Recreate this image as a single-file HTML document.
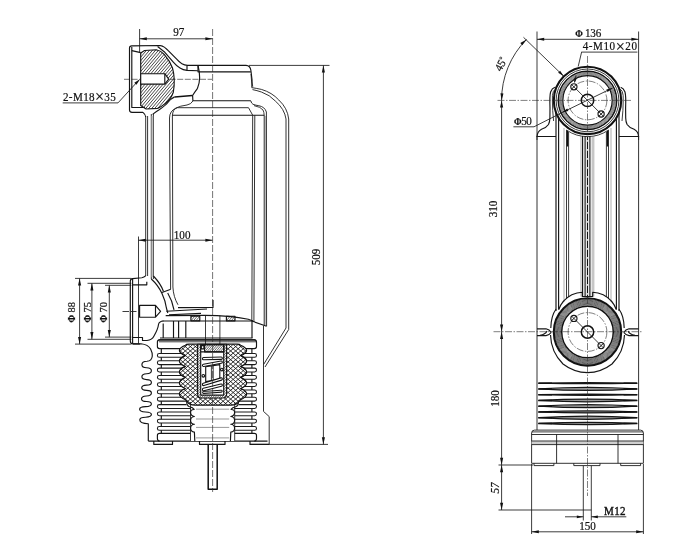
<!DOCTYPE html>
<html><head><meta charset="utf-8"><title>drawing</title>
<style>
html,body{margin:0;padding:0;background:#fff}
svg{display:block;will-change:transform}
svg *{vector-effect:none}
.d line,.d path,.d circle,.d rect{fill:none;stroke:#151515;stroke-width:1.15;stroke-linecap:butt;stroke-linejoin:round}
.d .t{stroke-width:.85;stroke:#1a1a1a}
.d .r{stroke-width:.9;stroke:#222}
.d .g{stroke-width:.6;stroke:#777}
.d .gb{stroke-width:3.2;stroke:#cfcfcf}
.d .k{stroke-width:1.5;stroke:#111}
.d .k2{stroke-width:2.1;stroke:#111}
.d .cl{stroke-width:.65;stroke:#2a2a2a;stroke-dasharray:7 2}
.d .cl2{stroke-width:.65;stroke:#2a2a2a;stroke-dasharray:6 1.6}
.d .cd{stroke-width:.6;stroke:#2a2a2a;stroke-dasharray:7 1.5 1.5 1.5}
.d .cw{stroke:#fff;stroke-width:.8;stroke-dasharray:1.8 7.2}
.d .n{stroke:none}
.d .m{stroke-width:.9;stroke:#1c1c1c}
.d .gf{stroke-width:1.6;stroke:#c0c0c0}
.d .t3{stroke-width:.6;stroke:#1a1a1a}
.d .t2{stroke-width:.55;stroke:#333}
.d .k0{stroke-width:1.2;stroke:#111}
.d .rb{stroke-width:1.05;stroke:#1a1a1a;fill:#fff}
.d .hh{stroke-width:.8;stroke:#1a1a1a}
.d .hh2{stroke-width:.65;stroke:#1a1a1a}
.d .hx{stroke-width:.85;stroke:#111}
.d .k15{stroke-width:1.2;stroke:#111}
.d .sp{stroke-width:1.1;stroke:#111;fill:#fff}
.d .g2{stroke-width:1;stroke:#999}
.d .ar{fill:#111;stroke:none}
.d text{font-family:"Liberation Serif",serif;fill:#111;stroke:#111;stroke-width:.2}
</style></head><body>
<svg class="d" width="692" height="551" viewBox="0 0 692 551">
<defs>
<clipPath id="c0"><path d="M140.7,53 L144.6,50.5 L156.3,49.8 Q161,50.8 164.2,54.4 Q170,61 172.5,68 Q175.6,79 173.3,92.2 Q171,99 165.5,103.4 Q161,107 157.6,108.4 L146.1,109 L140.7,105.5 Z" clip-rule="nonzero"/></clipPath>
<clipPath id="c1"><path d="M190.9,316.2 h8.9 v4.6 h-8.9 Z" clip-rule="nonzero"/></clipPath>
<clipPath id="c2"><path d="M226.4,316.2 h8.6 v4.6 h-8.6 Z" clip-rule="nonzero"/></clipPath>
<clipPath id="c3"><path d="M185.4,345.2 Q186,344.2 189,344.2 L237,344.2 Q240,344.2 240.6,345.2 C243.6,346.4 246.6,348.4 246.6,350.4 C246.6,352.4 243.6,354.40000000000003 240.6,355.6 C243.6,356.8 246.6,358.9 246.6,360.9 C246.6,362.9 243.6,365.2 240.6,366.4 C243.6,367.59999999999997 246.6,370 246.6,372 C246.6,374 243.6,376.3 240.6,377.5 C243.6,378.7 246.6,381 246.6,383 C246.6,385 243.6,387.3 240.6,388.5 C243.6,389.7 246.6,392 246.6,394 C246.6,396 243.6,398.40000000000003 240.6,399.6 L238.5,402 Q237,404.8 231,405.2 L195,405.2 Q189,404.8 187.5,402 L185.4,399.6 C182.4,398.40000000000003 179.4,396 179.4,394 C179.4,392 182.4,389.7 185.4,388.5 C182.4,387.3 179.4,385 179.4,383 C179.4,381 182.4,378.7 185.4,377.5 C182.4,376.3 179.4,374 179.4,372 C179.4,370 182.4,367.59999999999997 185.4,366.4 C182.4,365.2 179.4,362.9 179.4,360.9 C179.4,358.9 182.4,356.8 185.4,355.6 C182.4,354.40000000000003 179.4,352.4 179.4,350.4 C179.4,348.4 182.4,346.4 185.4,345.2 Z M197.6,344.2 L197.6,394 Q197.6,398 201.6,398 L222.6,398 Q226.6,398 226.6,394 L226.6,344.2 Z" clip-rule="evenodd"/></clipPath>
<clipPath id="c4"><path d="M185.4,345.2 Q186,344.2 189,344.2 L237,344.2 Q240,344.2 240.6,345.2 C243.6,346.4 246.6,348.4 246.6,350.4 C246.6,352.4 243.6,354.40000000000003 240.6,355.6 C243.6,356.8 246.6,358.9 246.6,360.9 C246.6,362.9 243.6,365.2 240.6,366.4 C243.6,367.59999999999997 246.6,370 246.6,372 C246.6,374 243.6,376.3 240.6,377.5 C243.6,378.7 246.6,381 246.6,383 C246.6,385 243.6,387.3 240.6,388.5 C243.6,389.7 246.6,392 246.6,394 C246.6,396 243.6,398.40000000000003 240.6,399.6 L238.5,402 Q237,404.8 231,405.2 L195,405.2 Q189,404.8 187.5,402 L185.4,399.6 C182.4,398.40000000000003 179.4,396 179.4,394 C179.4,392 182.4,389.7 185.4,388.5 C182.4,387.3 179.4,385 179.4,383 C179.4,381 182.4,378.7 185.4,377.5 C182.4,376.3 179.4,374 179.4,372 C179.4,370 182.4,367.59999999999997 185.4,366.4 C182.4,365.2 179.4,362.9 179.4,360.9 C179.4,358.9 182.4,356.8 185.4,355.6 C182.4,354.40000000000003 179.4,352.4 179.4,350.4 C179.4,348.4 182.4,346.4 185.4,345.2 Z M197.6,344.2 L197.6,394 Q197.6,398 201.6,398 L222.6,398 Q226.6,398 226.6,394 L226.6,344.2 Z" clip-rule="evenodd"/></clipPath>
<clipPath id="c5"><path d="M197.6,344.2 L197.6,394 Q197.6,398 201.6,398 L222.6,398 Q226.6,398 226.6,394 L226.6,344.2 Z M200.7,351.8 L200.7,395.1 L223.7,395.1 L223.7,351.8 Z" clip-rule="evenodd"/></clipPath>
<clipPath id="c6"><path d="M204.6,344.6 L223.7,344.6 L223.7,351.8 L204.6,351.8 Z" clip-rule="nonzero"/></clipPath>
</defs>
<rect width="692" height="551" style="fill:#fff;stroke:none"/>
<g id="left">
<line class="t" x1="139.6" y1="29" x2="139.6" y2="52"/>
<line class="t" x1="139.6" y1="38.8" x2="212.6" y2="38.8"/>
<polygon class="ar" points="139.60,38.80 146.80,37.25 146.80,40.35"/>
<polygon class="ar" points="212.60,38.80 205.40,40.35 205.40,37.25"/>
<text transform="translate(178.7 36.4) scale(0.95 1)" font-size="11.7" text-anchor="middle">97</text>
<text transform="translate(63 100.8) scale(0.95 1)" font-size="11.7" text-anchor="start" textLength="55.58" lengthAdjust="spacing">2-M18<tspan font-size="17" dy="1.6">×</tspan><tspan dy="-1.6">35</tspan></text>
<path class="t" d="M62.7,102.9 L118,102.9 L138.5,80.5"/>
<polygon class="ar" points="140.20,78.90 136.45,84.77 134.33,82.65"/>
<line class="cl2" x1="124" y1="79.3" x2="212" y2="79.3"/>
<path d="M143,112.4 L132,112.4 Q129.5,112.2 129.5,110 L129.5,48 Q129.5,45.9 131.8,45.9 L160.2,45.5 Q164.5,46.2 168,50.4 L177.2,59.6 Q181.5,64.8 187.5,65.4 L246,65.4 Q250.3,65.6 250.9,70.5 Q252.6,80 251.9,87.4"/>
<path d="M131.8,47 L131.8,107.5 L144.8,107.5"/>
<path d="M131.8,50.6 L140.7,52.6"/>
<path d="M157.6,46.5 L164.2,51.7 L173.3,62.2 Q177,66.5 180,68 Q183,70 187,70.4 L197.8,70.8"/>
<path d="M187,65.4 L187,70.4 M198,65.4 L198,71.8 L250.8,71.8"/>
<path class="t" d="M251,74 Q251.2,82 252.8,86.5"/>
<path class="hh" clip-path="url(#c0)" d="M104.00,83.03L152.10,25.71M105.76,84.51L153.86,27.18M107.52,85.99L155.62,28.66M109.28,87.46L157.38,30.14M111.05,88.94L159.15,31.62M112.81,90.42L160.91,33.10M114.57,91.90L162.67,34.58M116.33,93.38L164.43,36.05M118.09,94.86L166.19,37.53M119.85,96.33L167.95,39.01M121.62,97.81L169.72,40.49M123.38,99.29L171.48,41.97M125.14,100.77L173.24,43.45M126.90,102.25L175.00,44.92M128.66,103.73L176.76,46.40M130.43,105.21L178.53,47.88M132.19,106.68L180.29,49.36M133.95,108.16L182.05,50.84M135.71,109.64L183.81,52.32M137.47,111.12L185.57,53.79M139.24,112.60L187.34,55.27M141.00,114.08L189.10,56.75M142.76,115.55L190.86,58.23M144.52,117.03L192.62,59.71M146.28,118.51L194.38,61.19M148.05,119.99L196.15,62.67M149.81,121.47L197.91,64.14M151.57,122.95L199.67,65.62M153.33,124.42L201.43,67.10M155.09,125.90L203.19,68.58M156.85,127.38L204.95,70.06M158.62,128.86L206.72,71.54M160.38,130.34L208.48,73.01M162.14,131.82L210.24,74.49M163.90,133.29L212.00,75.97"/>
<path d="M140.7,53 L144.6,50.5 L156.3,49.8 Q161,50.8 164.2,54.4 Q170,61 172.5,68 Q175.6,79 173.3,92.2 Q171,99 165.5,103.4 Q161,107 157.6,108.4 L146.1,109 L140.7,105.5 Z"/>
<path d="M140.7,73.7 L164.8,73.7 L168.7,79.2 L164.8,84.1 L140.7,84.1 Z" style="fill:#fff"/>
<path d="M164.8,73.7 L164.8,84.1"/>
<path d="M198.1,66 Q201.5,79 197.5,88.3 Q194,93 192.6,95.5 L192.9,100.7 L250.9,100.7"/>
<path class="k" d="M174.6,96.9 L192.4,95.6"/>
<path d="M152.6,114.4 Q157,111 159.2,109.8 Q166,105 168.3,102 Q171,98.5 174.6,96.9"/>
<path d="M143,112.4 Q145.5,114.5 145.7,117"/>
<line class="m" x1="145.7" y1="116" x2="145.7" y2="276"/>
<line class="m" x1="147.6" y1="116" x2="147.6" y2="276"/>
<line class="m" x1="151.3" y1="114" x2="151.3" y2="279"/>
<line class="m" x1="153.4" y1="114" x2="153.4" y2="279"/>
<path class="gf" d="M152.35,116 L152.35,277"/>
<path class="gf" d="M265.4,116 L265.4,325.5"/>
<path class="m" d="M192.9,101 Q191,104.3 187,105 Q180,105.9 176,108 Q169.6,111 169.5,118 L170.6,289 "/>
<path class="m" d="M248.5,107.7 L177.4,107.7 Q172.6,109 172.4,116 L172.9,287 Q173.4,297 178,304.8"/>
<path d="M172.4,115.2 L264,115.2"/>
<path class="m" d="M248.5,107.7 L252.7,115.2 L251.8,321"/>
<line class="m" x1="254.8" y1="115.2" x2="253.9" y2="322"/>
<path class="m" d="M250.9,101 Q251.3,103.4 253,104.3 Q256,105.4 258.8,105.7 Q264.8,106.8 266.4,112 L266.6,326.2"/>
<path class="t" d="M254,105.6 Q261,107 263,110 Q264,112 264.2,115.2"/>
<path class="m" d="M264.2,115 L264.2,325.5"/>
<path class="m" d="M251.5,87.6 Q256,88.2 261.4,89.4 Q272,92.5 278.8,100 Q287.5,108 288.7,119 L288.7,329.5 L265,367"/>
<path class="m" d="M252.5,89.6 Q257,90.5 261.4,92 Q270,95 275.3,101 Q284.6,109 286,119 L286,328 L263.6,364.5"/>
<path d="M251.8,321 L266.6,326.2"/>
<path class="m" d="M263.5,326 L263.5,411.4 L269.2,416.6 L269.2,444.4"/>
<line class="t" x1="249" y1="65.4" x2="329.5" y2="65.4"/>
<line class="t" x1="250" y1="444.4" x2="328" y2="444.4"/>
<line class="t" x1="323.4" y1="65.4" x2="323.4" y2="444.4"/>
<polygon class="ar" points="323.40,65.40 324.95,72.60 321.85,72.60"/>
<polygon class="ar" points="323.40,444.40 321.85,437.20 324.95,437.20"/>
<text transform="translate(320.3 257) rotate(-90) scale(0.95 1)" font-size="11.7" text-anchor="middle">509</text>
<line class="t" x1="138.5" y1="236.5" x2="138.5" y2="343.8"/>
<line class="t" x1="138.5" y1="240.2" x2="212.6" y2="240.2"/>
<polygon class="ar" points="138.50,240.20 145.70,238.65 145.70,241.75"/>
<polygon class="ar" points="212.60,240.20 205.40,241.75 205.40,238.65"/>
<text transform="translate(182.1 238.6) scale(0.95 1)" font-size="11.7" text-anchor="middle">100</text>
<path d="M145.9,275.6 Q144,277.4 141.8,277.7 L132.6,278.6 Q130.3,278.9 130.3,281.3 L130.3,341 Q130.3,343.8 133,343.8 L140,344"/>
<line x1="132.6" y1="279" x2="132.6" y2="343.5"/>
<path d="M132.6,284.8 L146.8,284.8 L146.8,281.8"/>
<path d="M132.6,337.5 L142.5,337.5 L142.5,340.5 L147,340.5"/>
<path d="M151.3,279 Q158,285 162,293.5 Q165.5,301 166.4,308 L167.8,313"/>
<path d="M153.4,276 Q161,284 163.5,291.5"/>
<path d="M162,292.5 L170.8,289.2"/>
<path d="M167.7,293 Q172.5,301 174,309.8"/>
<path d="M139.6,305.4 L155.5,305.4 L160.6,311.4 L155.5,317.2 L139.6,317.2 Z M155.5,305.4 L155.5,317.2"/>
<path class="t" d="M122.5,311.5 L129,311.5 M131,311.5 L136.5,311.5"/>
<line class="t" x1="75" y1="278.4" x2="131.3" y2="278.4"/>
<line class="t" x1="75" y1="344.1" x2="131.3" y2="344.1"/>
<line class="t" x1="79.6" y1="278.4" x2="79.6" y2="344.1"/>
<polygon class="ar" points="79.60,278.40 81.15,285.60 78.05,285.60"/>
<polygon class="ar" points="79.60,344.10 78.05,336.90 81.15,336.90"/>
<line class="t" x1="87.5" y1="283.3" x2="131.3" y2="283.3"/>
<line class="t" x1="87.5" y1="339.3" x2="131.3" y2="339.3"/>
<line class="t" x1="91.9" y1="283.3" x2="91.9" y2="339.3"/>
<polygon class="ar" points="91.90,283.30 93.45,290.50 90.35,290.50"/>
<polygon class="ar" points="91.90,339.30 90.35,332.10 93.45,332.10"/>
<line class="t" x1="105" y1="285.3" x2="131.3" y2="285.3"/>
<line class="t" x1="105" y1="337.1" x2="131.3" y2="337.1"/>
<line class="t" x1="109.3" y1="285.3" x2="109.3" y2="337.1"/>
<polygon class="ar" points="109.30,285.30 110.85,292.50 107.75,292.50"/>
<polygon class="ar" points="109.30,337.10 107.75,329.90 110.85,329.90"/>
<text transform="translate(75.4 312.3) rotate(-90) scale(0.95 1)" font-size="11" text-anchor="middle"><tspan font-size="9.6" font-weight="bold">Φ</tspan> 88</text>
<text transform="translate(90.6 312.3) rotate(-90) scale(0.95 1)" font-size="11" text-anchor="middle"><tspan font-size="9.6" font-weight="bold">Φ</tspan> 75</text>
<text transform="translate(107.2 312.3) rotate(-90) scale(0.95 1)" font-size="11" text-anchor="middle"><tspan font-size="9.6" font-weight="bold">Φ</tspan> 70</text>
<path d="M178,307.6 L213,307.4 L213,300"/>
<path d="M166.3,311.2 L207,309 M169,314.8 L201,313.4"/>
<path d="M165.7,315.6 L205,315.4 Q230,315.4 248.3,319.2 L252.9,321"/>
<path class="hh2" clip-path="url(#c1)" d="M185.02,318.98L194.03,308.25M186.48,320.21L195.49,309.47M187.93,321.43L196.94,310.69M189.39,322.65L198.40,311.91M190.84,323.87L199.86,313.13M192.30,325.09L201.31,314.35M193.76,326.31L202.77,315.57M195.21,327.53L204.22,316.79M196.67,328.75L205.68,318.02"/>
<path d="M190.9,316.2 h8.9 v4.6 h-8.9 Z"/>
<path class="hh2" clip-path="url(#c2)" d="M220.46,318.88L229.30,308.35M221.91,320.10L230.75,309.57M223.37,321.33L232.21,310.79M224.82,322.55L233.66,312.01M226.28,323.77L235.12,313.23M227.74,324.99L236.58,314.45M229.19,326.21L238.03,315.67M230.65,327.43L239.49,316.90M232.10,328.65L240.94,318.12"/>
<path d="M226.4,316.2 h8.6 v4.6 h-8.6 Z"/>
<path d="M162.5,321 L252.9,321"/>
<path d="M147,340.5 Q152,340 154,336 Q158,329 158.5,324.5 Q159,321.3 163.5,321"/>
<path d="M163.2,323.5 L163.2,338 M252,321 L252,338 M173.5,321 L173.5,338 M178.6,321 L178.6,338 M185.8,321 L185.8,338"/>
<path class="t" d="M205.5,315.5 L205.5,352 M219.9,315.5 L219.9,352"/>
<path d="M160,338 L252.5,338 M158.5,339.9 L255.5,339.9"/>
<path d="M161.3,349 L161.3,433 M251.9,349 L251.9,433"/>
<path d="M159.6,348.6 Q157.4,348.6 157.4,346.6 L157.4,342 Q157.4,339.9 159.6,339.9 L254.3,339.9 Q256.5,339.9 256.5,342 L256.5,346.6 Q256.5,348.6 254.3,348.6 Z"/>
<path class="t" d="M159,341.8 L256,341.8"/>
<path d="M159.6,441.1 Q157.4,441.1 157.4,438.6 L157.4,435.4 Q157.4,433.4 159.6,433.4 L254.3,433.4 Q256.5,433.4 256.5,435.4 L256.5,438.6 Q256.5,441.1 254.3,441.1"/>
<path class="rb" d="M159.3,353.50 Q157.4,353.50 157.4,355.40 Q157.4,357.30 159.3,357.30 L254.6,357.30 Q256.5,357.30 256.5,355.40 Q256.5,353.50 254.6,353.50 Z"/>
<path class="rb" d="M159.3,360.80 Q157.4,360.80 157.4,362.70 Q157.4,364.60 159.3,364.60 L254.6,364.60 Q256.5,364.60 256.5,362.70 Q256.5,360.80 254.6,360.80 Z"/>
<path class="rb" d="M159.3,368.10 Q157.4,368.10 157.4,370.00 Q157.4,371.90 159.3,371.90 L254.6,371.90 Q256.5,371.90 256.5,370.00 Q256.5,368.10 254.6,368.10 Z"/>
<path class="rb" d="M159.3,375.40 Q157.4,375.40 157.4,377.30 Q157.4,379.20 159.3,379.20 L254.6,379.20 Q256.5,379.20 256.5,377.30 Q256.5,375.40 254.6,375.40 Z"/>
<path class="rb" d="M159.3,382.70 Q157.4,382.70 157.4,384.60 Q157.4,386.50 159.3,386.50 L254.6,386.50 Q256.5,386.50 256.5,384.60 Q256.5,382.70 254.6,382.70 Z"/>
<path class="rb" d="M159.3,390.00 Q157.4,390.00 157.4,391.90 Q157.4,393.80 159.3,393.80 L254.6,393.80 Q256.5,393.80 256.5,391.90 Q256.5,390.00 254.6,390.00 Z"/>
<path class="rb" d="M159.3,397.30 Q157.4,397.30 157.4,399.20 Q157.4,401.10 159.3,401.10 L254.6,401.10 Q256.5,401.10 256.5,399.20 Q256.5,397.30 254.6,397.30 Z"/>
<path class="rb" d="M159.3,404.60 Q157.4,404.60 157.4,406.50 Q157.4,408.40 159.3,408.40 L254.6,408.40 Q256.5,408.40 256.5,406.50 Q256.5,404.60 254.6,404.60 Z"/>
<path class="rb" d="M159.3,411.90 Q157.4,411.90 157.4,413.80 Q157.4,415.70 159.3,415.70 L254.6,415.70 Q256.5,415.70 256.5,413.80 Q256.5,411.90 254.6,411.90 Z"/>
<path class="rb" d="M159.3,419.20 Q157.4,419.20 157.4,421.10 Q157.4,423.00 159.3,423.00 L254.6,423.00 Q256.5,423.00 256.5,421.10 Q256.5,419.20 254.6,419.20 Z"/>
<path class="rb" d="M159.3,426.50 Q157.4,426.50 157.4,428.40 Q157.4,430.30 159.3,430.30 L254.6,430.30 Q256.5,430.30 256.5,428.40 Q256.5,426.50 254.6,426.50 Z"/>
<path d="M148.3,441.1 L267.5,441.1"/>
<path d="M153.8,441.1 L153.8,444.4 L172.5,444.4 L172.5,441.1 M199.5,441.1 L199.5,444.4 L225,444.4 L225,441.1 M250,441.1 L250,444.4 L269.2,444.4"/>
<path d="M133,343.8 L141,343.8 Q148,344.6 150.6,349 Q152.6,353 152.3,356 Q151.8,361 147,361.3 Q141.9,361.5 141.9,364.7 C141.9,370.50 151.4,365.00 151.4,370.8 C151.4,376.50 141.9,371.10 141.9,376.8 C141.9,382.12 151.4,377.08 151.4,382.4 C151.4,387.53 141.7,382.67 141.7,387.8 C141.7,392.74 151.4,388.06 151.4,393 C151.4,398.60 141.5,393.30 141.5,398.9 C141.5,403.75 151.4,399.15 151.4,404 C151.4,409.04 139.6,404.26 139.6,409.3 C139.6,414.34 151.4,409.56 151.4,414.6 C151.4,419.54 139.8,414.86 139.8,419.8 C139.8,423 143,423.6 148.3,423.7 L148.3,441.1"/>
<path d="M185.4,345.2 Q186,344.2 189,344.2 L237,344.2 Q240,344.2 240.6,345.2 C243.6,346.4 246.6,348.4 246.6,350.4 C246.6,352.4 243.6,354.40000000000003 240.6,355.6 C243.6,356.8 246.6,358.9 246.6,360.9 C246.6,362.9 243.6,365.2 240.6,366.4 C243.6,367.59999999999997 246.6,370 246.6,372 C246.6,374 243.6,376.3 240.6,377.5 C243.6,378.7 246.6,381 246.6,383 C246.6,385 243.6,387.3 240.6,388.5 C243.6,389.7 246.6,392 246.6,394 C246.6,396 243.6,398.40000000000003 240.6,399.6 L238.5,402 Q237,404.8 231,405.2 L195,405.2 Q189,404.8 187.5,402 L185.4,399.6 C182.4,398.40000000000003 179.4,396 179.4,394 C179.4,392 182.4,389.7 185.4,388.5 C182.4,387.3 179.4,385 179.4,383 C179.4,381 182.4,378.7 185.4,377.5 C182.4,376.3 179.4,374 179.4,372 C179.4,370 182.4,367.59999999999997 185.4,366.4 C182.4,365.2 179.4,362.9 179.4,360.9 C179.4,358.9 182.4,356.8 185.4,355.6 C182.4,354.40000000000003 179.4,352.4 179.4,350.4 C179.4,348.4 182.4,346.4 185.4,345.2 Z " style="fill:#fff" class="n"/>
<path d="M186.6,400 L186.6,405.5 L190.5,408 L190.5,440.9 L234.7,440.9 L234.7,408 L238.6,405.5 L238.6,400 Z" style="fill:#fff" class="n"/>
<path class="t" d="M190.5,408 L190.5,440.9 M234.7,408 L234.7,440.9"/>
<path class="hx" clip-path="url(#c3)" d="M208.17,305.22L282.78,370.07M206.01,307.71L280.61,372.56M203.84,310.20L278.45,375.05M201.68,312.69L276.28,377.54M199.51,315.18L274.12,380.03M197.35,317.67L271.95,382.52M195.18,320.16L269.79,385.01M193.02,322.65L267.62,387.50M190.85,325.14L265.46,389.99M188.69,327.63L263.29,392.48M186.52,330.12L261.13,394.97M184.36,332.61L258.96,397.46M182.19,335.10L256.80,399.95M180.03,337.59L254.63,402.44M177.86,340.08L252.47,404.93M175.70,342.58L250.30,407.42M173.53,345.07L248.14,409.92M171.37,347.56L245.97,412.41M169.20,350.05L243.81,414.90M167.04,352.54L241.64,417.39M164.87,355.03L239.48,419.88M162.71,357.52L237.31,422.37M160.54,360.01L235.15,424.86M158.38,362.50L232.98,427.35M156.21,364.99L230.82,429.84M154.05,367.48L228.65,432.33M151.88,369.97L226.49,434.82M149.72,372.46L224.32,437.31M147.55,374.95L222.16,439.80M145.39,377.44L219.99,442.29M143.22,379.93L217.83,444.78"/>
<path class="hx" clip-path="url(#c4)" d="M143.22,370.07L217.83,305.22M145.39,372.56L219.99,307.71M147.55,375.05L222.16,310.20M149.72,377.54L224.32,312.69M151.88,380.03L226.49,315.18M154.05,382.52L228.65,317.67M156.21,385.01L230.82,320.16M158.38,387.50L232.98,322.65M160.54,389.99L235.15,325.14M162.71,392.48L237.31,327.63M164.87,394.97L239.48,330.12M167.04,397.46L241.64,332.61M169.20,399.95L243.81,335.10M171.37,402.44L245.97,337.59M173.53,404.93L248.14,340.08M175.70,407.42L250.30,342.58M177.86,409.92L252.47,345.07M180.03,412.41L254.63,347.56M182.19,414.90L256.80,350.05M184.36,417.39L258.96,352.54M186.52,419.88L261.13,355.03M188.69,422.37L263.29,357.52M190.85,424.86L265.46,360.01M193.02,427.35L267.62,362.50M195.18,429.84L269.79,364.99M197.35,432.33L271.95,367.48M199.51,434.82L274.12,369.97M201.68,437.31L276.28,372.46M203.84,439.80L278.45,374.95M206.01,442.29L280.61,377.44M208.17,444.78L282.78,379.93"/>
<path class="k15" d="M185.4,345.2 Q186,344.2 189,344.2 L237,344.2 Q240,344.2 240.6,345.2 C243.6,346.4 246.6,348.4 246.6,350.4 C246.6,352.4 243.6,354.40000000000003 240.6,355.6 C243.6,356.8 246.6,358.9 246.6,360.9 C246.6,362.9 243.6,365.2 240.6,366.4 C243.6,367.59999999999997 246.6,370 246.6,372 C246.6,374 243.6,376.3 240.6,377.5 C243.6,378.7 246.6,381 246.6,383 C246.6,385 243.6,387.3 240.6,388.5 C243.6,389.7 246.6,392 246.6,394 C246.6,396 243.6,398.40000000000003 240.6,399.6 L238.5,402 Q237,404.8 231,405.2 L195,405.2 Q189,404.8 187.5,402 L185.4,399.6 C182.4,398.40000000000003 179.4,396 179.4,394 C179.4,392 182.4,389.7 185.4,388.5 C182.4,387.3 179.4,385 179.4,383 C179.4,381 182.4,378.7 185.4,377.5 C182.4,376.3 179.4,374 179.4,372 C179.4,370 182.4,367.59999999999997 185.4,366.4 C182.4,365.2 179.4,362.9 179.4,360.9 C179.4,358.9 182.4,356.8 185.4,355.6 C182.4,354.40000000000003 179.4,352.4 179.4,350.4 C179.4,348.4 182.4,346.4 185.4,345.2 Z "/>
<path d="M197.6,344.2 L197.6,394 Q197.6,398 201.6,398 L222.6,398 Q226.6,398 226.6,394 L226.6,344.2 Z" style="fill:#fff"/>
<path class="hh2" clip-path="url(#c5)" d="M163.25,374.65L207.05,322.45M164.55,375.74L208.35,323.55M165.86,376.84L209.66,324.64M167.16,377.93L210.96,325.73M168.46,379.02L212.26,326.82M169.76,380.12L213.56,327.92M171.07,381.21L214.87,329.01M172.37,382.30L216.17,330.10M173.67,383.39L217.47,331.20M174.97,384.49L218.77,332.29M176.28,385.58L220.07,333.38M177.58,386.67L221.38,334.47M178.88,387.76L222.68,335.57M180.18,388.86L223.98,336.66M181.48,389.95L225.28,337.75M182.79,391.04L226.59,338.84M184.09,392.14L227.89,339.94M185.39,393.23L229.19,341.03M186.69,394.32L230.49,342.12M188.00,395.41L231.80,343.22M189.30,396.51L233.10,344.31M190.60,397.60L234.40,345.40M191.90,398.69L235.70,346.49M193.20,399.78L237.00,347.59M194.51,400.88L238.31,348.68M195.81,401.97L239.61,349.77M197.11,403.06L240.91,350.86M198.41,404.16L242.21,351.96M199.72,405.25L243.52,353.05M201.02,406.34L244.82,354.14M202.32,407.43L246.12,355.24M203.62,408.53L247.42,356.33M204.93,409.62L248.72,357.42M206.23,410.71L250.03,358.51M207.53,411.80L251.33,359.61M208.83,412.90L252.63,360.70M210.13,413.99L253.93,361.79M211.44,415.08L255.24,362.88M212.74,416.18L256.54,363.98M214.04,417.27L257.84,365.07M215.34,418.36L259.14,366.16M216.65,419.45L260.45,367.26M217.95,420.55L261.75,368.35"/>
<path d="M200.7,344.2 L200.7,395.1 L223.7,395.1 L223.7,344.2"/>
<path d="M200.7,344.6 L223.7,344.6 L223.7,351.8 L200.7,351.8 Z" style="fill:#fff"/>
<path class="hh2" clip-path="url(#c6)" d="M195.57,349.40L212.59,329.12M196.88,350.49L213.89,330.21M198.18,351.58L215.19,331.30M199.48,352.68L216.50,332.40M200.78,353.77L217.80,333.49M202.09,354.86L219.10,334.58M203.39,355.95L220.40,335.68M204.69,357.05L221.71,336.77M205.99,358.14L223.01,337.86M207.29,359.23L224.31,338.95M208.60,360.32L225.61,340.05M209.90,361.42L226.91,341.14M211.20,362.51L228.22,342.23M212.50,363.60L229.52,343.32M213.81,364.70L230.82,344.42M215.11,365.79L232.12,345.51M216.41,366.88L233.43,346.60"/>
<path d="M204.6,344.6 L223.7,344.6 L223.7,351.8 L204.6,351.8 Z"/>
<path d="M201.3,345.6 h2.6 v3.2 h-2.6 Z"/>
<path d="M203.6,358.6 L221.2,358.2" style="stroke:#111;stroke-width:3.4;stroke-linecap:round"/><path d="M203.6,358.6 L221.2,358.2" style="stroke:#fff;stroke-width:1.30;stroke-linecap:round"/>
<path d="M203.6,365.3 L221.2,362.2" style="stroke:#111;stroke-width:3.4;stroke-linecap:round"/><path d="M203.6,365.3 L221.2,362.2" style="stroke:#fff;stroke-width:1.30;stroke-linecap:round"/>
<path class="sp" d="M205.7,366.8 L219.8,364.6 L219.8,379.4 L205.7,381.6 Z"/>
<path class="t" d="M211.4,366 L211.4,380.6 M213.2,365.8 L213.2,380.4"/>
<path d="M203.6,384.4 L221.2,379" style="stroke:#111;stroke-width:3.4;stroke-linecap:round"/><path d="M203.6,384.4 L221.2,379" style="stroke:#fff;stroke-width:1.30;stroke-linecap:round"/>
<path d="M203.6,389.5 L221.2,385.2" style="stroke:#111;stroke-width:3.4;stroke-linecap:round"/><path d="M203.6,389.5 L221.2,385.2" style="stroke:#fff;stroke-width:1.30;stroke-linecap:round"/>
<path d="M203.6,392.4 L221.2,391.2" style="stroke:#111;stroke-width:3.0;stroke-linecap:round"/><path d="M203.6,392.4 L221.2,391.2" style="stroke:#fff;stroke-width:0.90;stroke-linecap:round"/>
<circle cx="203.3" cy="375.8" r="1.3" style="fill:#fff"/><circle cx="221.8" cy="369.5" r="1.3" style="fill:#fff"/>
<path d="M186.6,400.5 Q186.6,405.5 189,406.5 Q193,407.5 194.4,409.5 M238.6,400.5 Q238.6,405.5 236.2,406.5 Q232.2,407.5 230.8,409.5"/>
<path d="M194.4,409.5 Q190.6,409.20000000000005 190.6,412.6 Q190.6,416.0 194.4,416.5 Q190.6,417.0 190.6,420.4 Q190.6,423.79999999999995 194.4,424.29999999999995 Q190.6,424.8 190.6,428.2 Q190.6,431.59999999999997 194.4,432.09999999999997 L194.8,441.1"/>
<path d="M230.8,409.5 Q234.6,409.20000000000005 234.6,412.6 Q234.6,416.0 230.8,416.5 Q234.6,417.0 234.6,420.4 Q234.6,423.79999999999995 230.8,424.29999999999995 Q234.6,424.8 234.6,428.2 Q234.6,431.59999999999997 230.8,432.09999999999997 L230.4,441.1"/>
<path class="g2" d="M196,409.2 L229.2,409.2"/>
<path class="g2" d="M196,419 L229.2,419"/>
<path class="g2" d="M196,427.4 L229.2,427.4"/>
<path class="g2" d="M196,437.9 L229.2,437.9"/>
<path class="t" d="M190.5,402 L190.5,409 M234.7,402 L234.7,409"/>
<path class="k" d="M208.2,444.4 L208.2,489.3 L217.2,489.3 L217.2,444.4"/>
<line class="cl" x1="212.6" y1="29" x2="212.6" y2="492"/>
</g>
<g id="right">
<path d="M537,137 Q537.2,131.5 541.5,129.3 Q546.5,127.5 548.5,124.5 Q549.8,122 549.9,118 L550,108 Q549.5,96 550.6,92 Q552,88.4 554.9,87.3"/>
<path d="M638.6,137 Q638.4,131.5 634.1,129.3 Q629.1,127.5 627.1,124.5 Q625.8,122 625.7,118 L625.6,108 Q626.1,96 625.0,92 Q623.6,88.4 620.7,87.3"/>
<path class="t" d="M553.6,121 Q552.4,110 552.4,101 Q552,94.5 553.4,91.4 Q554.4,89.6 556.2,89"/>
<path class="t" d="M622.0,121 Q623.2,110 623.2,101 Q623.6,94.5 622.2,91.4 Q621.2,89.6 619.4,89"/>
<path d="M537,136.5 L556,136.5 M619,136.5 L638.6,136.5"/>
<path class="m" d="M537,136 L537,430 M638.6,136 L638.6,430"/>
<path d="M556,112 L556,311 M558.6,118 L558.6,309.6"/>
<path d="M619,112 L619,311 M616.4,118 L616.4,309.6"/>
<path class="g" d="M564,128 L564,302 M611,128 L611,302"/>
<path class="t" d="M566.5,130 L566.5,299 M568.6,132 L568.6,297 M608.5,130 L608.5,299 M606.4,132 L606.4,297"/>
<path class="k" d="M567.5,131 L567.5,146.5 M607.5,131 L607.5,146.5"/>
<path class="t" d="M566.5,130 A36.6,36.6 0 0 0 608.5,130"/>
<path class="g" d="M581,136 L581,296.5"/>
<path d="M582.6,136 L582.6,296.5"/>
<path d="M585.1,136 L585.1,296.5"/>
<path d="M589.9,136 L589.9,296.5"/>
<path class="g" d="M592.2,136 L592.2,296.5"/>
<path class="g" d="M593.8,136 L593.8,296.5"/>
<path class="k0" d="M587.5,136.5 L587.5,296"/>
<path class="cw" d="M587.5,140 L587.5,296"/>
<path d="M558.7,309.6 Q562,300 571.8,294.8 Q577,292.5 582.3,292.2 L582.3,296.5 L592.7,296.5 L592.7,292.2 Q598,292.5 603.2,294.8 Q613,300 616.3,309.6"/>
<path d="M556.1,309 Q551,316 550.8,328 M618.9,309 Q624,316 624.2,328"/>
<path d="M550.5,335 Q551,352 563,364 Q574,372.5 587.5,372.6 Q601,372.5 612,364 Q624,352 624.5,335"/>
<path d="M537,328.8 L546,328.8 Q549.5,329.5 551.2,332.5 M537,335.6 L546,335.6 Q549.5,335 551.2,332.5 M540,335.3 Q545.5,334.5 547,331"/>
<path d="M638.6,328.8 L629,328.8 Q625.5,329.5 623.8,332.5 M638.6,335.6 L629,335.6 Q625.5,335 623.8,332.5 M635,335.3 Q629.5,334.5 628,331"/>
<path d="M539,383.20 Q587.5,382.20 636.6,383.20 Q587.5,384.20 539,383.20 Z" style="fill:#9a9a9a;stroke:#151515;stroke-width:1.25"/>
<path class="k" d="M538.2,383.20 L552,383.20 M623.6,383.20 L637.4,383.20"/>
<path d="M539,388.95 Q587.5,385.95 636.6,388.95 Q587.5,391.95 539,388.95 Z" style="fill:#9a9a9a;stroke:#151515;stroke-width:1.25"/>
<path class="k" d="M538.2,388.95 L552,388.95 M623.6,388.95 L637.4,388.95"/>
<path d="M539,394.70 Q587.5,393.50 636.6,394.70 Q587.5,395.90 539,394.70 Z" style="fill:#9a9a9a;stroke:#151515;stroke-width:1.25"/>
<path class="k" d="M538.2,394.70 L552,394.70 M623.6,394.70 L637.4,394.70"/>
<path d="M539,400.45 Q587.5,397.65 636.6,400.45 Q587.5,403.25 539,400.45 Z" style="fill:#9a9a9a;stroke:#151515;stroke-width:1.25"/>
<path class="k" d="M538.2,400.45 L552,400.45 M623.6,400.45 L637.4,400.45"/>
<path d="M539,406.20 Q587.5,403.20 636.6,406.20 Q587.5,409.20 539,406.20 Z" style="fill:#9a9a9a;stroke:#151515;stroke-width:1.25"/>
<path class="k" d="M538.2,406.20 L552,406.20 M623.6,406.20 L637.4,406.20"/>
<path d="M539,411.95 Q587.5,409.95 636.6,411.95 Q587.5,413.95 539,411.95 Z" style="fill:#9a9a9a;stroke:#151515;stroke-width:1.25"/>
<path class="k" d="M538.2,411.95 L552,411.95 M623.6,411.95 L637.4,411.95"/>
<path d="M539,417.70 Q587.5,414.50 636.6,417.70 Q587.5,420.90 539,417.70 Z" style="fill:#9a9a9a;stroke:#151515;stroke-width:1.25"/>
<path class="k" d="M538.2,417.70 L552,417.70 M623.6,417.70 L637.4,417.70"/>
<path d="M539,423.45 Q587.5,421.05 636.6,423.45 Q587.5,425.85 539,423.45 Z" style="fill:#9a9a9a;stroke:#151515;stroke-width:1.25"/>
<path class="k" d="M538.2,423.45 L552,423.45 M623.6,423.45 L637.4,423.45"/>
<path class="m" d="M531.6,463.3 L531.6,433 Q531.6,430.1 534.6,430.1 L640.4,430.1 Q643.4,430.1 643.4,433 L643.4,463.3 Z"/>
<path class="t" d="M532,431.9 L643,431.9"/>
<path class="gb" d="M531.6,442.9 L643.4,442.9"/>
<path class="m" d="M531.6,434.5 L643.4,434.5 M531.6,441 L643.4,441 M531.6,444.6 L643.4,444.6"/>
<path class="m" d="M556.6,434.5 L556.6,463.3 M618,434.5 L618,463.3"/>
<path class="m" d="M534,463.3 L534,465.6 L553.9,465.6 L553.9,463.3 M573.8,463.3 L573.8,465.6 L600,465.6 L600,463.3 M620.7,463.3 L620.7,465.6 L640.6,465.6 L640.6,463.3"/>
<path class="t" d="M583.3,465.8 L583.3,520.5 M591.3,465.8 L591.3,520.5 "/>
<path class="t" d="M565,516.8 L583.3,516.8 M591.3,516.8 L626.3,516.8"/>
<polygon class="ar" points="583.30,516.80 576.80,518.20 576.80,515.40"/>
<polygon class="ar" points="591.30,516.80 597.80,515.40 597.80,518.20"/>
<text transform="translate(604.1 515) scale(0.95 1)" font-size="11.7" text-anchor="start" textLength="22.63" lengthAdjust="spacing" style="stroke-width:.35">M12</text>
<path class="t" d="M531.6,464 L531.6,534 M643.4,464 L643.4,534 M531.6,531.8 L643.4,531.8"/>
<polygon class="ar" points="531.60,531.80 538.80,530.25 538.80,533.35"/>
<polygon class="ar" points="643.40,531.80 636.20,533.35 636.20,530.25"/>
<text transform="translate(587.5 530) scale(0.95 1)" font-size="11.7" text-anchor="middle" textLength="17.37" lengthAdjust="spacing">150</text>
<circle cx="587.5" cy="100.4" r="33.7" style="fill:#fff" class="k2"/>
<circle cx="587.5" cy="100.4" r="31.4" class="t"/>
<circle cx="587.5" cy="100.4" r="29.2" class="k"/>
<circle cx="587.5" cy="100.4" r="28.0" class="t2"/>
<circle cx="587.5" cy="100.4" r="27.2" class="t2"/>
<circle cx="587.5" cy="100.4" r="26.4" class="t2"/>
<circle cx="587.5" cy="100.4" r="25.6" class="t2"/>
<circle cx="587.5" cy="100.4" r="24.7" class="k0"/>
<circle cx="587.5" cy="100.4" r="19.4" class="cd"/>
<circle cx="587.5" cy="100.4" r="6.2" class="k"/>
<circle cx="573.9" cy="86.80000000000001" r="3.1"/>
<path class="t" d="M571.6999999999999,84.60000000000001 L576.1,89.00000000000001 M571.6999999999999,89.00000000000001 L576.1,84.60000000000001"/>
<circle cx="601.1" cy="114.0" r="3.1"/>
<path class="t" d="M598.9,111.8 L603.3000000000001,116.2 M598.9,116.2 L603.3000000000001,111.8"/>
<path class="t" d="M576.1,89.0 L598.9,111.80000000000001"/>
<circle cx="587.5" cy="332.0" r="33.7" style="fill:#fff" class="k2"/>
<circle cx="587.5" cy="332.0" r="32.6" class="t3"/>
<circle cx="587.5" cy="332.0" r="31.8" class="t3"/>
<circle cx="587.5" cy="332.0" r="31.0" class="t3"/>
<circle cx="587.5" cy="332.0" r="30.2" class="t3"/>
<circle cx="587.5" cy="332.0" r="29.4" class="t3"/>
<circle cx="587.5" cy="332.0" r="28.6" class="t3"/>
<circle cx="587.5" cy="332.0" r="27.8" class="t3"/>
<circle cx="587.5" cy="332.0" r="27.0" class="t3"/>
<circle cx="587.5" cy="332.0" r="25.8" class="k"/>
<circle cx="587.5" cy="332.0" r="19.4" class="cd"/>
<circle cx="587.5" cy="332.0" r="6.2" class="k"/>
<circle cx="573.9" cy="318.4" r="3.1"/>
<path class="t" d="M571.6999999999999,316.2 L576.1,320.59999999999997 M571.6999999999999,320.59999999999997 L576.1,316.2"/>
<circle cx="601.1" cy="345.6" r="3.1"/>
<path class="t" d="M598.9,343.40000000000003 L603.3000000000001,347.8 M598.9,347.8 L603.3000000000001,343.40000000000003"/>
<path class="t" d="M576.1,320.6 L598.9,343.4"/>
<line class="cd" x1="587.5" y1="56" x2="587.5" y2="136"/>
<line class="cd" x1="587.5" y1="297" x2="587.5" y2="496"/>
<line class="cd" x1="497.5" y1="100.4" x2="631" y2="100.4"/>
<line class="cd" x1="493.5" y1="331.7" x2="641.5" y2="331.7"/>
<line class="t" x1="537" y1="31.5" x2="537" y2="140"/>
<line class="t" x1="638.6" y1="31.5" x2="638.6" y2="140"/>
<line class="t" x1="537" y1="39.3" x2="638.6" y2="39.3"/>
<polygon class="ar" points="537.00,39.30 544.20,37.75 544.20,40.85"/>
<polygon class="ar" points="638.60,39.30 631.40,40.85 631.40,37.75"/>
<text transform="translate(575.2 36.7) scale(0.95 1)" font-size="11.7" text-anchor="start" textLength="27.37" lengthAdjust="spacing"><tspan font-size="9.6" font-weight="bold">Φ</tspan> 136</text>
<text transform="translate(582.8 50.4) scale(0.95 1)" font-size="11.7" text-anchor="start" textLength="57.05" lengthAdjust="spacing">4-M10<tspan font-size="17" dy="1.6">×</tspan><tspan dy="-1.6">20</tspan></text>
<path class="t" d="M581.3,52.1 L637.4,52.1 M581.6,52.1 L578.2,66.5 M576,75.4 L574.6,82"/>
<polygon class="ar" points="574.30,83.50 574.37,77.87 576.71,78.41"/>
<path class="t" d="M523.5,37.3 L563.5,76"/>
<polygon class="ar" points="563.80,76.30 558.15,72.79 560.10,70.78"/>
<path class="t" d="M501.6,100.4 A86.25,86.25 0 0 1 526.51,39.41"/>
<polygon class="ar" points="501.60,100.40 500.47,93.33 503.46,93.49"/>
<polygon class="ar" points="526.51,39.41 522.31,45.21 520.31,42.98"/>
<text transform="translate(504.2 65.8) rotate(-62) scale(0.95 1)" font-size="11.5" text-anchor="middle">45<tspan font-size="8" dy="-2.5">°</tspan></text>
<line class="t" x1="501.6" y1="100.4" x2="501.6" y2="510"/>
<polygon class="ar" points="501.60,100.40 503.15,107.60 500.05,107.60"/>
<polygon class="ar" points="501.60,331.70 500.05,324.50 503.15,324.50"/>
<polygon class="ar" points="501.60,331.70 503.15,338.90 500.05,338.90"/>
<polygon class="ar" points="501.60,465.00 500.05,457.80 503.15,457.80"/>
<polygon class="ar" points="501.60,465.00 503.15,472.20 500.05,472.20"/>
<polygon class="ar" points="501.60,510.00 500.05,502.80 503.15,502.80"/>
<line class="t" x1="498.5" y1="465" x2="533" y2="465"/>
<line class="t" x1="498.5" y1="510" x2="591.3" y2="510"/>
<text transform="translate(497.2 209) rotate(-90) scale(0.95 1)" font-size="11.7" text-anchor="middle">310</text>
<text transform="translate(499 398.5) rotate(-90) scale(0.95 1)" font-size="11.7" text-anchor="middle">180</text>
<text transform="translate(499 488) rotate(-90) scale(0.95 1)" font-size="11.7" text-anchor="middle" font-style="italic">57</text>
<text transform="translate(514.1 124.6) scale(0.95 1)" font-size="11.7" text-anchor="start" textLength="18.74" lengthAdjust="spacing"><tspan font-size="9.6" font-weight="bold">Φ</tspan>50</text>
<path class="t" d="M513.4,126.8 L534,126.8 L562.4,112.4 L612.5,88"/>
<polygon class="ar" points="562.00,112.60 567.23,108.49 568.46,111.01"/>
<polygon class="ar" points="612.80,87.90 607.57,92.01 606.34,89.49"/>
</g>
</svg>
</body></html>
